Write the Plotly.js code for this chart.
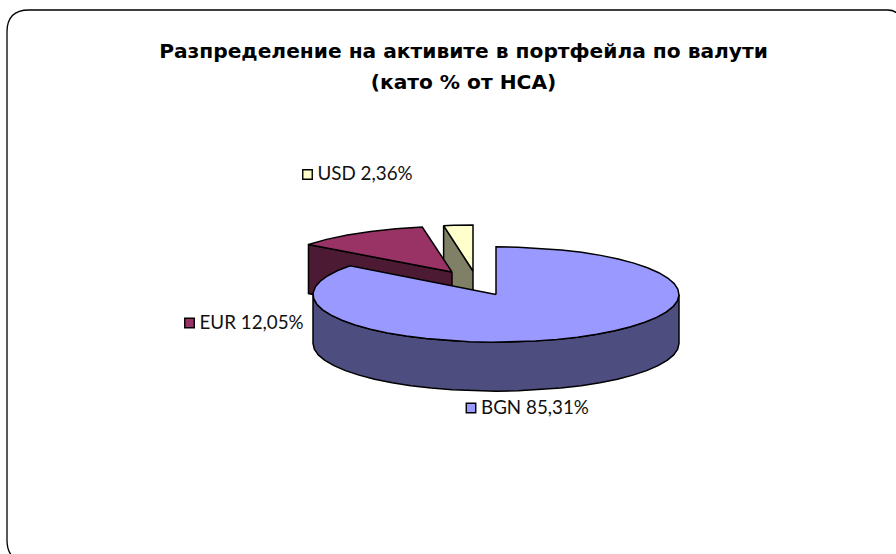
<!DOCTYPE html>
<html><head><meta charset="utf-8">
<script src="https://cdn.plot.ly/plotly-3.0.1.min.js"></script>
<style>html,body{margin:0;padding:0;background:#fff;overflow:hidden}#c{width:896px;height:554px}</style>
</head><body><div id="c"></div>
<script>
const categories = ['BGN','EUR','USD'];
const shares = [85.31,12.05,2.36];
const labelsText = ['BGN 85,31%','EUR 12,05%','USD 2,36%'];
const topColors = ['#9999ff','#993366','#ffffcc'];
const sideColors = ['#4d4d80','#4d1a33','#808066'];
const titleLines = ['Разпределение на активите в портфейла по валути','(като % от НСА)'];

const W=896,H=554,depth=49;
const centers=[[496,294.5],[452,272],[473,271]];
const radii=[[183,47.7],[180,45.5],[178,46]];
const labelPos=[[471,408],[189.5,323],[307.5,174.5]];

let cum=0;
const slices=shares.map((v,i)=>{const s=cum/100*360;cum+=v;return {s,e:i===shares.length-1?360:cum/100*360,c:centers[i],r:radii[i]};});
const pt=(sl,deg,dz=0)=>{const t=deg*Math.PI/180;return [sl.c[0]+sl.r[0]*Math.sin(t),sl.c[1]-sl.r[1]*Math.cos(t)+dz];};
const arc=(sl,a,b,dz=0,step=9)=>{const n=Math.max(1,Math.round(Math.abs(b-a)/step));const o=[];for(let i=0;i<=n;i++)o.push(pt(sl,a+(b-a)*i/n,dz));return o;};
const poly=(pts,fill,name)=>({type:'scatter',mode:'lines',x:pts.map(p=>p[0]),y:pts.map(p=>p[1]),fill:'toself',fillcolor:fill,line:{color:'#000',width:1.5,shape:'linear'},hoverinfo:'skip',showlegend:false,name});
const close=p=>p.concat([p[0]]);
const [b,e,u]=slices;
const traces=[];
traces.push(poly(close([[u.c[0],u.c[1]],pt(u,u.s),pt(u,u.s,depth),[u.c[0],u.c[1]+depth]]),sideColors[2],'USD side'));
traces.push(poly(close([[u.c[0],u.c[1]],...arc(u,u.s,u.e,0,3)]),topColors[2],'USD'));
traces.push(poly(close([[e.c[0],e.c[1]],pt(e,e.s),pt(e,e.s,depth),[e.c[0],e.c[1]+depth]]),sideColors[1],'EUR side'));
traces.push(poly(close([[e.c[0],e.c[1]],...arc(e,e.s,e.e,0,8)]),topColors[1],'EUR'));
traces.push(poly(close([...arc(b,90,270,0,7),...arc(b,270,90,depth,7)]),sideColors[0],'BGN side'));
traces.push(poly(close([[b.c[0],b.c[1]],...arc(b,b.s,b.e,0,7)]),topColors[0],'BGN'));
traces.push({type:'scatter',mode:'markers',x:labelPos.map(p=>p[0]),y:labelPos.map(p=>p[1]),
 marker:{symbol:'square',size:9.5,color:topColors,line:{color:'#000',width:1.4}},hoverinfo:'skip',showlegend:false});
traces.push({type:'scatter',mode:'text',x:labelPos.map(p=>p[0]+10),y:labelPos.map(p=>p[1]+1),
 text:labelsText,textposition:'middle right',textfont:{family:'Lato, sans-serif',size:18.8,color:'#111'},hoverinfo:'skip',showlegend:false});

const r=22,L=7,T=10,B=562;
const layout={width:W,height:H,margin:{l:0,r:0,t:0,b:0},paper_bgcolor:'#fff',plot_bgcolor:'#fff',showlegend:false,
 xaxis:{range:[0,W],visible:false,fixedrange:true},yaxis:{range:[H,0],visible:false,fixedrange:true},
 title:{text:titleLines.map(t=>'<span style="font-size:20.2px">'+t+'</span>').join('<br>'),font:{family:'DejaVu Sans, sans-serif',size:24,color:'#000',weight:700},x:463.5/W,xanchor:'center',y:1-58/H,yanchor:'top',yref:'paper'},
 shapes:[{type:'path',xref:'x',yref:'y',path:`M 899 16 Q 896 10 888 10 L ${L+r} ${T} Q ${L} ${T} ${L} ${T+r} L ${L} ${B-r} Q ${L} ${B} ${L+r} ${B}`,line:{color:'#000',width:1.3},fillcolor:'rgba(0,0,0,0)',layer:'below'}]};
Plotly.newPlot('c',traces,layout,{displayModeBar:false,staticPlot:true});
</script></body></html>
